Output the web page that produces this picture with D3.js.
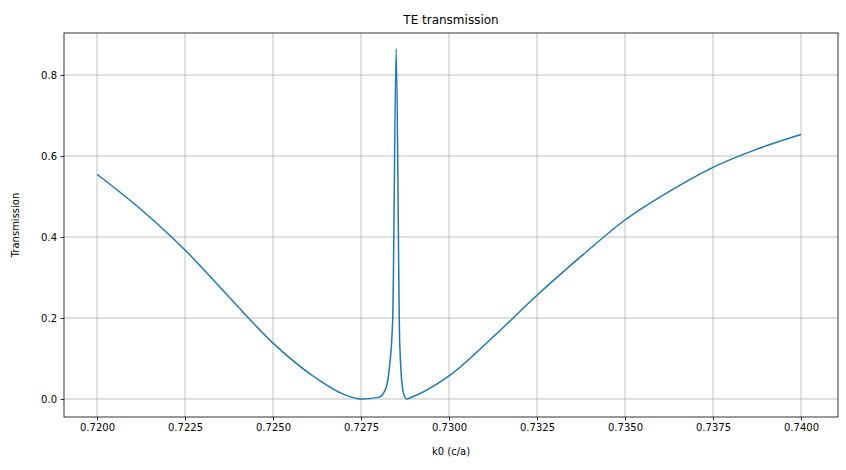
<!DOCTYPE html><html><head><script src="https://cdn.jsdelivr.net/npm/d3@7"></script>
<style>body{margin:0;background:#fff;font-family:"DejaVu Sans",sans-serif}</style></head><body><svg id="c" width="846" height="470"></svg>
<script>
const kValues=[0.7200,0.72125,0.7225,0.72375,0.7250,0.72625,0.7270,0.7275,0.7280,0.7282,0.7283,0.7284,0.7285,0.7286,0.7287,0.7288,0.7289,0.7300,0.73125,0.7325,0.73375,0.7350,0.73625,0.7375,0.73875,0.7400];
const tValues=[0.555,0.468,0.368,0.252,0.138,0.05,0.012,0.0,0.004,0.025,0.072,0.195,0.864,0.138,0.017,0.0,0.003,0.057,0.153,0.256,0.352,0.442,0.512,0.572,0.617,0.653];
const xTicks=[0.7200,0.7225,0.7250,0.7275,0.7300,0.7325,0.7350,0.7375,0.7400];
const yTicks=[0,0.2,0.4,0.6,0.8];
const svg=d3.select("#c"),L=64,R=838,T=33,B=417;
const x=d3.scaleLinear().domain([0.7200,0.7400]).range([97,801]);
const y=d3.scaleLinear().domain([0,0.8]).range([399,75]);
const g=svg.append("g");
g.selectAll(".vx").data(xTicks).enter().append("line").attr("x1",d=>x(d)).attr("x2",d=>x(d)).attr("y1",T).attr("y2",B).attr("stroke","#b0b0b0").attr("stroke-width",0.8);
g.selectAll(".hy").data(yTicks).enter().append("line").attr("y1",d=>y(d)).attr("y2",d=>y(d)).attr("x1",L).attr("x2",R).attr("stroke","#b0b0b0").attr("stroke-width",0.8);
const data=kValues.map((k,i)=>[k,tValues[i]]);
svg.append("path").datum(data).attr("fill","none").attr("stroke","#1f77b4").attr("stroke-width",1.5)
 .attr("d",d3.line().x(d=>x(d[0])).y(d=>y(d[1])).curve(d3.curveMonotoneX));
svg.append("rect").attr("x",L).attr("y",T).attr("width",R-L).attr("height",B-T).attr("fill","none").attr("stroke","#000").attr("stroke-width",0.8);
const xa=svg.append("g").attr("transform",`translate(0,${B})`).call(d3.axisBottom(x).tickValues(xTicks).tickFormat(d3.format(".4f")).tickSize(3.5).tickPadding(3.5));
const ya=svg.append("g").attr("transform",`translate(${L},0)`).call(d3.axisLeft(y).tickValues(yTicks).tickFormat(d3.format(".1f")).tickSize(3.5).tickPadding(3.5));
[xa,ya].forEach(a=>{a.select(".domain").remove();a.selectAll("text").attr("font-size",10).attr("font-family","DejaVu Sans").attr("fill","#000");a.selectAll("line").attr("stroke","#000").attr("stroke-width",0.8);});
svg.append("text").attr("x",(L+R)/2).attr("y",24).attr("text-anchor","middle").attr("font-size",12).text("TE transmission");
svg.append("text").attr("x",(L+R)/2).attr("y",455).attr("text-anchor","middle").attr("font-size",10).text("k0 (c/a)");
svg.append("text").attr("transform",`translate(19,${(T+B)/2}) rotate(-90)`).attr("text-anchor","middle").attr("font-size",10).text("Transmission");
</script></body></html>
